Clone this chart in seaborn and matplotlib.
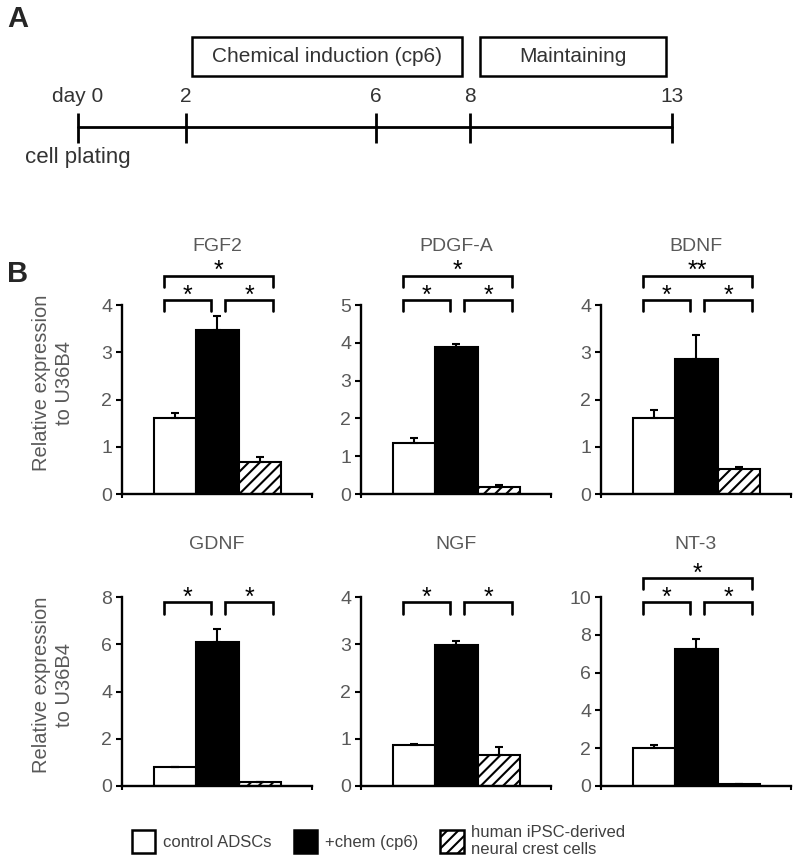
import pandas as pd
import matplotlib
matplotlib.use('Agg')
import matplotlib.pyplot as plt
from matplotlib.patches import Rectangle, Patch
from matplotlib.transforms import blended_transform_factory
import seaborn as sns

W, H = 800, 858
GRAY = '#595959'

# panel A timeline (schematic positions)
day_labels = ['day 0', '2', '6', '8', '13']
day_x = [78, 186, 376, 470, 672]
phase_names = ['Chemical induction (cp6)', 'Maintaining']
phase_span = [(192, 462), (480, 666)]

# panel B data
groups = ['control ADSCs', '+chem (cp6)', 'human iPSC-derived\nneural crest cells']
genes = ['FGF2', 'PDGF-A', 'BDNF', 'GDNF', 'NGF', 'NT-3']
ymax = [4, 5, 4, 8, 4, 10]
ystep = [1, 1, 1, 2, 1, 2]
control = [1.60, 1.35, 1.61, 0.80, 0.87, 2.00]
control_err = [0.11, 0.13, 0.17, 0.00, 0.02, 0.15]
chem = [3.47, 3.89, 2.86, 6.10, 2.98, 7.25]
chem_err = [0.30, 0.08, 0.50, 0.55, 0.09, 0.55]
ncc = [0.68, 0.19, 0.53, 0.15, 0.66, 0.12]
ncc_err = [0.10, 0.05, 0.04, 0.00, 0.17, 0.00]
pair_stars = ['*', '*', '*', '*', '*', '*']
outer_star = ['*', '*', '**', None, None, '*']


def px_box(left, top, w, h):
    return [left / W, 1 - (top + h) / H, w / W, h / H]


def bracket(ax, x0, x1, ytop, yleg, star):
    tr = blended_transform_factory(ax.transData, ax.transAxes)
    ax.plot([x0, x0, x1, x1], [yleg, ytop, ytop, yleg], color='black', lw=1.9,
            transform=tr, clip_on=False, solid_joinstyle='miter')
    ax.text((x0 + x1) / 2, ytop + 0.025, star, transform=tr, ha='center', va='center',
            fontsize=18, color='black')


def plot_gene(ax, i, row):
    df = pd.DataFrame({'group': groups,
                       'value': [control[i], chem[i], ncc[i]]})
    sns.barplot(data=df, x='group', y='value', hue='group', order=groups, hue_order=groups,
                palette=['white', 'black', 'white'], saturation=1, width=1,
                edgecolor='black', linewidth=1.5, legend=False, ax=ax)
    for p in ax.patches:
        if abs(p.get_x() + p.get_width() / 2 - 2) < 0.1:
            p.set_hatch('///')
    errs = [control_err[i], chem_err[i], ncc_err[i]]
    ax.errorbar([0, 1, 2], df['value'], yerr=[[0, 0, 0], errs], fmt='none',
                ecolor='black', elinewidth=1.5, capsize=3, capthick=1.5)

    ax.set_xlim(-1.26, 3.24)
    ax.set_ylim(0, ymax[i])
    yt = list(range(0, ymax[i] + 1, ystep[i]))
    ax.set_yticks(yt)
    ax.set_yticklabels([str(v) for v in yt])
    ax.set_xticks([-1.26, 3.24])
    ax.set_xticklabels(['', ''])
    ax.set_xlabel('')
    ax.set_ylabel('')
    sns.despine(ax=ax)
    for s in ['left', 'bottom']:
        ax.spines[s].set_linewidth(1.7)
        ax.spines[s].set_color('black')
    ax.tick_params(axis='y', direction='out', length=4, width=1.5, color='black',
                   labelsize=14, labelcolor=GRAY, pad=3)
    ax.tick_params(axis='x', direction='out', length=3, width=1.5, color='black')

    if row == 0:
        small_top, big_top, title_y = 1.026, 1.153, 1.31
    else:
        small_top, big_top, title_y = 0.972, 1.10, 1.28
    leg = 0.06
    bracket(ax, -0.26, 0.85, small_top, small_top - leg, pair_stars[i])
    bracket(ax, 1.19, 2.31, small_top, small_top - leg, pair_stars[i])
    if outer_star[i]:
        bracket(ax, -0.26, 2.31, big_top, big_top - leg, outer_star[i])
    ax.text(0.5, title_y, genes[i], transform=ax.transAxes, ha='center', va='center',
            fontsize=14, color=GRAY)


sns.set_style('ticks')
plt.rcParams['font.family'] = ['Liberation Sans', 'DejaVu Sans']
plt.rcParams['hatch.linewidth'] = 1.5
plt.rcParams['hatch.color'] = 'black'

fig = plt.figure(figsize=(W / 100, H / 100), dpi=100)

# ---- panel A
ax_a = fig.add_axes([0, 1 - 190 / H, 1, 190 / H])
ax_a.set_xlim(0, W)
ax_a.set_ylim(190, 0)
ax_a.axis('off')
ax_a.plot([day_x[0], day_x[-1]], [127, 127], color='black', lw=2)
ax_a.vlines(day_x, 113, 143, color='black', lw=2)
for x, lab in zip(day_x, day_labels):
    ax_a.text(x, 96, lab, ha='center', va='center', fontsize=15, color='#333333')
ax_a.text(day_x[0], 157, 'cell plating', ha='center', va='center', fontsize=16, color='#333333')
for name, (x0, x1) in zip(phase_names, phase_span):
    ax_a.add_patch(Rectangle((x0, 37), x1 - x0, 39, fill=False, lw=1.8, edgecolor='black'))
    ax_a.text((x0 + x1) / 2, 56, name, ha='center', va='center', fontsize=15, color='#333333')

fig.text(18 / W, 1 - 19 / H, 'A', fontsize=21, fontweight='bold', ha='center', va='center')
fig.text(18 / W, 1 - 274 / H, 'B', fontsize=21, fontweight='bold', ha='center', va='center')

# ---- panel B
lefts = [122, 361, 601]
tops = [305, 597]
for i in range(6):
    row, col = divmod(i, 3)
    ax = fig.add_axes(px_box(lefts[col], tops[row], 190, 189))
    plot_gene(ax, i, row)

for ycen in [383, 685]:
    fig.text(53 / W, 1 - ycen / H, 'Relative expression\nto U36B4', rotation=90,
             ha='center', va='center', fontsize=14.5, color=GRAY, linespacing=1.25)

handles = [Patch(facecolor='white', edgecolor='black', lw=1.8),
           Patch(facecolor='black', edgecolor='black', lw=1.8),
           Patch(facecolor='white', edgecolor='black', lw=1.8, hatch='///')]
fig.legend(handles, groups, loc='center left', bbox_to_anchor=(132 / W, 1 - 841 / H),
           ncol=3, frameon=False, fontsize=12, handlelength=1.4, handleheight=1.75,
           handletextpad=0.45, columnspacing=1.35, borderaxespad=0, borderpad=0,
           labelcolor='#404040')

fig.savefig('out.png', dpi=100)
